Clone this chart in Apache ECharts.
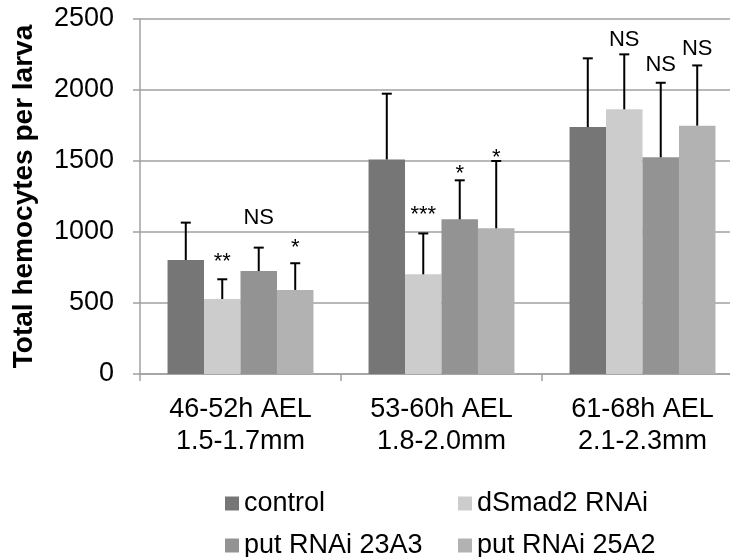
<!DOCTYPE html>
<html>
<head>
<meta charset="utf-8">
<script src="https://cdn.jsdelivr.net/npm/echarts@6/dist/echarts.min.js"></script>
<style>
  html, body { margin: 0; padding: 0; background: #fff; }
  #main { width: 730px; height: 557px; }
</style>
</head>
<body>
<div id="main"></div>
<script>
// 数据
var categories = ['46-52h AEL\n1.5-1.7mm', '53-60h AEL\n1.8-2.0mm', '61-68h AEL\n2.1-2.3mm'];
var seriesNames = ['control', 'dSmad2 RNAi', 'put RNAi 23A3', 'put RNAi 25A2'];

var control = [803, 1511, 1739];
var dSmad2 = [528, 702, 1864];
var put23A3 = [725, 1089, 1526];
var put25A2 = [592, 1026, 1749];

// 误差线上端
var controlErr = [1066, 1974, 2223];
var dSmad2Err = [667, 990, 2251];
var put23A3Err = [890, 1364, 2051];
var put25A2Err = [780, 1500, 2173];

// 显著性标记及其位置
var dSmad2Sig = ['**', '***', 'NS'];
var dSmad2SigY = [789, 1120, 2352];
var put23A3Sig = ['NS', '*', 'NS'];
var put23A3SigY = [1099, 1408, 2176];
var put25A2Sig = ['*', '*', 'NS'];
var put25A2SigY = [887, 1521, 2289];

var yTicks = [0, 500, 1000, 1500, 2000, 2500];

var colors = ['#767676', '#cccccc', '#939393', '#b2b2b2'];
var font = '"Liberation Sans", Arial, sans-serif';
var catGap = 0.274;

var means = [control, dSmad2, put23A3, put25A2];
var errs = [controlErr, dSmad2Err, put23A3Err, put25A2Err];
var sigs = [null, dSmad2Sig, put23A3Sig, put25A2Sig];
var sigYs = [null, dSmad2SigY, put23A3SigY, put25A2SigY];

var myChart = echarts.init(document.getElementById('main'));

function errSeries(k) {
  var data = [];
  for (var i = 0; i < categories.length; i++) {
    data.push([i, means[k][i], errs[k][i], sigYs[k] ? sigYs[k][i] : null, sigs[k] ? sigs[k][i] : '']);
  }
  return {
    type: 'custom',
    name: seriesNames[k] + ' err',
    z: 5,
    silent: true,
    data: data,
    renderItem: function (params, api) {
      var idx = api.value(0);
      var bandW = api.size([1, 0])[0];
      var barW = bandW * (1 - catGap) / 4;
      var c = api.coord([idx, api.value(1)]);
      var x = c[0] - 2 * barW + (k + 0.5) * barW;
      var top = api.coord([idx, api.value(2)])[1];
      var base = c[1];
      var style = { stroke: '#000', lineWidth: 2 };
      var children = [
        { type: 'line', shape: { x1: x, y1: base, x2: x, y2: top }, style: style },
        { type: 'line', shape: { x1: x - 5, y1: top, x2: x + 5, y2: top }, style: style }
      ];
      var txt = data[params.dataIndex][4];
      if (txt) {
        var ty = api.coord([idx, api.value(3)])[1];
        children.push({
          type: 'text',
          style: {
            text: txt, x: x, y: ty, align: 'center', verticalAlign: 'middle',
            fill: '#000', font: '22px ' + font
          }
        });
      }
      return { type: 'group', children: children };
    }
  };
}

var series = [];
for (var k = 0; k < 4; k++) {
  series.push({
    name: seriesNames[k],
    type: 'bar',
    data: means[k],
    barGap: 0,
    barCategoryGap: (catGap * 100) + '%',
    itemStyle: { color: colors[k] }
  });
}
for (var k2 = 0; k2 < 4; k2++) series.push(errSeries(k2));

// 图例：两列两行
var legendPos = [[225, 490], [458, 490], [225, 532], [458, 532]];
var legends = [];
for (var j = 0; j < 4; j++) {
  legends.push({
    left: legendPos[j][0],
    top: legendPos[j][1],
    padding: 0,
    itemWidth: 14,
    itemHeight: 14,
    icon: 'rect',
    selectedMode: false,
    data: [seriesNames[j]],
    textStyle: { fontSize: 27, lineHeight: 24, color: '#000', fontFamily: font }
  });
}

var option = {
  animation: false,
  textStyle: { fontFamily: font },
  color: colors,
  legend: legends,
  grid: { left: 140, top: 19, bottom: 183, right: -13, outerBoundsMode: 'none', containLabel: false },
  xAxis: {
    type: 'category',
    data: categories,
    axisLine: { lineStyle: { color: '#a0a0a0', width: 1.5 } },
    axisTick: { show: true, length: 7, lineStyle: { color: '#a0a0a0', width: 1.5 } },
    axisLabel: { fontSize: 27, lineHeight: 32, color: '#000', margin: 20, fontFamily: font }
  },
  yAxis: {
    type: 'value',
    min: 0,
    max: yTicks[yTicks.length - 1],
    interval: 500,
    name: 'Total hemocytes per larva',
    nameLocation: 'middle',
    nameRotate: 90,
    nameGap: 102,
    nameTextStyle: { fontSize: 28, fontWeight: 'bold', color: '#000', fontFamily: font },
    axisLine: { show: true, lineStyle: { color: '#a0a0a0', width: 1.5 } },
    axisTick: { show: true, length: 7, lineStyle: { color: '#a0a0a0', width: 1.5 } },
    axisLabel: {
      fontSize: 27, color: '#000', margin: 26, fontFamily: font,
      formatter: function (v) { return String(v); }
    },
    splitLine: { lineStyle: { color: '#a0a0a0', width: 1.5 } }
  },
  series: series
};

myChart.setOption(option);
</script>
</body>
</html>
